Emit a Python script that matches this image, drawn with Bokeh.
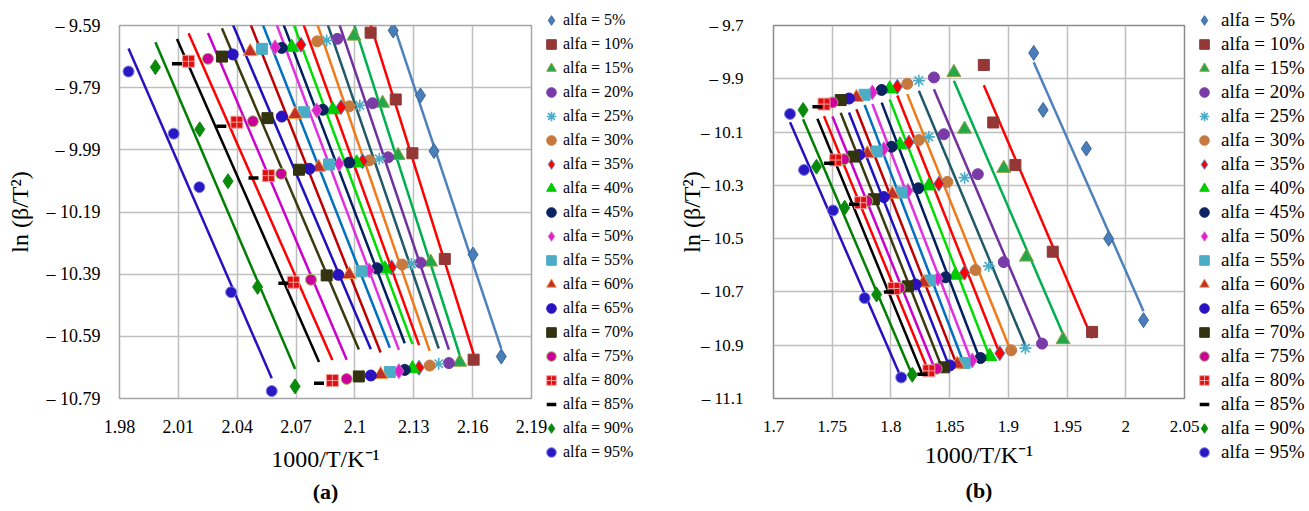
import numpy as np
from bokeh.plotting import figure
from bokeh.models import Range1d, FixedTicker, Legend, LegendItem, Title, ColumnDataSource
from bokeh.layouts import row
from bokeh.embed import file_html
from bokeh.resources import INLINE

# ---------------- data ----------------
ALFA = ["5%", "10%", "15%", "20%", "25%", "30%", "35%", "40%", "45%", "50%",
        "55%", "60%", "65%", "70%", "75%", "80%", "85%", "90%", "95%"]

# panel (a): five heating-rate rows, each listed alfa = 5% ... 95%
A_X1 = [2.1195, 2.1080, 2.0995, 2.0910, 2.0856, 2.0808, 2.0725, 2.0678, 2.0627, 2.0593,
        2.0526, 2.0466, 2.0377, 2.0322, 2.0251, 2.0152, 2.0093, 1.9983, 1.9846]
A_Y1 = [-9.606, -9.613, -9.624, -9.633, -9.638, -9.641, -9.652, -9.660, -9.662, -9.660,
        -9.665, -9.674, -9.683, -9.690, -9.697, -9.705, -9.713, -9.724, -9.738]
A_X2 = [2.1334, 2.1208, 2.1141, 2.1090, 2.1025, 2.0971, 2.0929, 2.0887, 2.0836, 2.0805,
        2.0741, 2.0695, 2.0627, 2.0554, 2.0480, 2.0398, 2.0319, 2.0209, 2.0076]
A_Y2 = [-9.815, -9.828, -9.840, -9.840, -9.847, -9.850, -9.853, -9.861, -9.861, -9.863,
        -9.869, -9.876, -9.883, -9.888, -9.898, -9.901, -9.914, -9.924, -9.938]
A_X3 = [2.1403, 2.1293, 2.1220, 2.1169, 2.1124, 2.1073, 2.1039, 2.1009, 2.0971, 2.0919,
        2.0868, 2.0815, 2.0768, 2.0715, 2.0624, 2.0559, 2.0483, 2.0353, 2.0207]
A_Y3 = [-9.994, -10.001, -10.008, -10.014, -10.019, -10.024, -10.027, -10.032, -10.031, -10.035,
        -10.037, -10.046, -10.051, -10.054, -10.067, -10.073, -10.081, -10.091, -10.110]
A_X4 = [2.1602, 2.1458, 2.1386, 2.1334, 2.1288, 2.1241, 2.1187, 2.1153, 2.1113, 2.1073,
        2.1034, 2.0971, 2.0915, 2.0856, 2.0776, 2.0686, 2.0635, 2.0504, 2.0369]
A_Y4 = [-10.327, -10.341, -10.351, -10.353, -10.357, -10.359, -10.368, -10.373, -10.371, -10.378,
        -10.381, -10.391, -10.392, -10.394, -10.408, -10.416, -10.419, -10.431, -10.448]
A_X5 = [2.1746, 2.1605, 2.1534, 2.1479, 2.1427, 2.1381, 2.1327, 2.1293, 2.1254, 2.1224,
        2.1178, 2.1131, 2.1081, 2.1020, 2.0958, 2.0885, 2.0817, 2.0695, 2.0576]
A_Y5 = [-10.655, -10.665, -10.673, -10.676, -10.678, -10.684, -10.691, -10.694, -10.698, -10.702,
        -10.705, -10.713, -10.716, -10.719, -10.727, -10.732, -10.741, -10.751, -10.766]

# panel (b)
B_X1 = [1.9216, 1.8791, 1.8536, 1.8366, 1.8238, 1.8139, 1.8054, 1.7989, 1.7921, 1.7842,
        1.7776, 1.7706, 1.7643, 1.7572, 1.7502, 1.7430, 1.7374, 1.7252, 1.7141]
B_Y1 = [-9.803, -9.848, -9.876, -9.895, -9.907, -9.919, -9.930, -9.938, -9.942, -9.951,
        -9.960, -9.970, -9.974, -9.980, -9.989, -9.995, -10.005, -10.017, -10.032]
B_X2 = [1.9296, 1.8871, 1.8627, 1.8451, 1.8323, 1.8238, 1.8153, 1.8077, 1.8006, 1.7940,
        1.7878, 1.7799, 1.7728, 1.7685, 1.7600, 1.7530, 1.7473, 1.7366, 1.7260]
B_Y2 = [-10.017, -10.064, -10.089, -10.108, -10.118, -10.130, -10.139, -10.148, -10.155, -10.164,
        -10.173, -10.181, -10.186, -10.192, -10.202, -10.205, -10.217, -10.230, -10.242]
B_X3 = [1.9664, 1.9060, 1.8961, 1.8740, 1.8627, 1.8480, 1.8408, 1.8323, 1.8233, 1.8145,
        1.8091, 1.8012, 1.7940, 1.7855, 1.7799, 1.7742, 1.7685, 1.7606, 1.7507]
B_Y3 = [-10.162, -10.224, -10.236, -10.258, -10.271, -10.287, -10.294, -10.302, -10.311, -10.321,
        -10.327, -10.333, -10.344, -10.352, -10.359, -10.365, -10.371, -10.384, -10.394]
B_X4 = [1.9854, 1.9378, 1.9154, 1.8961, 1.8833, 1.8720, 1.8627, 1.8550, 1.8465, 1.8400,
        1.8332, 1.8276, 1.8210, 1.8145, 1.8074, 1.8026, 1.7983, 1.7878, 1.7776]
B_Y4 = [-10.500, -10.549, -10.569, -10.588, -10.603, -10.618, -10.628, -10.637, -10.645, -10.650,
        -10.657, -10.666, -10.672, -10.679, -10.685, -10.687, -10.700, -10.710, -10.723]
B_X5 = [2.0151, 1.9713, 1.9466, 1.9287, 1.9145, 1.9024, 1.8927, 1.8842, 1.8763, 1.8692,
        1.8627, 1.8565, 1.8502, 1.8451, 1.8389, 1.8323, 1.8267, 1.8182, 1.8088]
B_Y5 = [-10.806, -10.850, -10.879, -10.894, -10.911, -10.919, -10.930, -10.942, -10.948, -10.957,
        -10.967, -10.971, -10.976, -10.983, -10.988, -10.996, -11.009, -11.011, -11.021]

A_X_TICKS = [1.98, 2.01, 2.04, 2.07, 2.10, 2.13, 2.16, 2.19]
A_X_LABELS = ["1.98", "2.01", "2.04", "2.07", "2.1", "2.13", "2.16", "2.19"]
A_Y_TICKS = [-10.79, -10.59, -10.39, -10.19, -9.99, -9.79, -9.59]
A_Y_LABELS = ["\u2013 10.79", "\u2013 10.59", "\u2013 10.39", "\u2013 10.19", "\u2013 9.99", "\u2013 9.79", "\u2013 9.59"]
B_X_TICKS = [1.70, 1.75, 1.80, 1.85, 1.90, 1.95, 2.00, 2.05]
B_X_LABELS = ["1.7", "1.75", "1.8", "1.85", "1.9", "1.95", "2", "2.05"]
B_Y_TICKS = [-11.1, -10.9, -10.7, -10.5, -10.3, -10.1, -9.9, -9.7]
B_Y_LABELS = ["\u2013 11.1", "\u2013 10.9", "\u2013 10.7", "\u2013 10.5", "\u2013 10.3", "\u2013 10.1", "\u2013 9.9", "\u2013 9.7"]

X_TITLE = "1000/T/K\u207b\u00b9"
Y_TITLE = "ln (\u03b2/T\u00b2)"

# ---------------- styles ----------------
MARKERS = ["diamond", "square", "triangle", "circle", "asterisk", "circle", "diamond", "triangle",
           "circle", "diamond", "square", "triangle", "circle", "square", "circle", "square_cross",
           "dash", "diamond", "circle"]
FILLS = ["#4A7EBB", "#953735", "#22A84A", "#7A3BA8", "#4BACC6", "#C7793D", "#FF0000", "#00CC00",
         "#0D2260", "#E020C8", "#4BACC6", "#C0302A", "#2A12C0", "#333310", "#CC0099", "#E01010",
         "#000000", "#0A8A0A", "#2A18C4"]
EDGES = ["#3A6496", "#8C3836", "#8EA040", "#7A3BA8", "#4BACC6", "#C7793D", "#4F81BD", "#00CC00",
         "#0D2260", "#D070D0", "#4BACC6", "#F79646", "#2A12C0", "#333310", "#9BBB59", "#F4A0A0",
         "#000000", "#0A8A0A", "#8080E0"]
LINES = ["#4F81BD", "#FF0000", "#00B050", "#7030A0", "#215968", "#F07A18", "#FF0000", "#00DD00",
         "#002060", "#E030E0", "#0070C0", "#C00000", "#2010C0", "#3A3A10", "#CC00CC", "#FF0000",
         "#000000", "#008000", "#2A10C0"]
SIZES = {"diamond": 15, "square": 11, "triangle": 14, "circle": 11, "asterisk": 12,
         "square_cross": 12, "dash": 10}
SERIF = "Liberation Serif"
H = 510
FRAME_TOP = 25
FRAME_H = 373


def marker_kw(i):
    m = MARKERS[i]
    lw = 1.6 if m == "asterisk" else (3.5 if m == "dash" else 1)
    return dict(marker=m, size=SIZES[m], fill_color=FILLS[i],
                line_color=EDGES[i] if m not in ("asterisk", "dash") else FILLS[i],
                line_width=lw)


def make_panel(rows_x, rows_y, xr, yr, xt, xl, yt, yl, W, bl, br,
               tick_px, xstand, ystand, ytitle_stand, xtitle_stand, outline,
               caption, cap_stand):
    p = figure(width=W, height=H, x_range=Range1d(*xr), y_range=Range1d(*yr),
               output_backend="svg", toolbar_location=None,
               min_border_left=bl, min_border_right=br, min_border_top=FRAME_TOP,
               min_border_bottom=H - FRAME_TOP - FRAME_H)
    p.background_fill_color = "white"
    p.border_fill_color = "white"
    p.outline_line_color = outline
    p.outline_line_width = 1.5

    xtk = FixedTicker(ticks=xt)
    ytk = FixedTicker(ticks=yt)
    p.xaxis.ticker = xtk
    p.yaxis.ticker = ytk
    p.xgrid.ticker = xtk
    p.ygrid.ticker = ytk
    p.xaxis.major_label_overrides = dict(zip(xt, xl))
    p.yaxis.major_label_overrides = dict(zip(yt, yl))
    for ax in (p.xaxis, p.yaxis):
        ax.axis_line_color = None
        ax.major_tick_line_color = None
        ax.minor_tick_line_color = None
        ax.major_label_text_font = SERIF
        ax.major_label_text_font_size = f"{tick_px}px"
        ax.major_label_text_color = "black"
        ax.axis_label_text_font = SERIF
        ax.axis_label_text_font_size = "24px"
        ax.axis_label_text_font_style = "normal"
        ax.axis_label_text_color = "black"
    p.xaxis.axis_label = X_TITLE
    p.yaxis.axis_label = Y_TITLE
    p.xaxis.major_label_standoff = xstand
    p.yaxis.major_label_standoff = ystand
    p.xaxis.axis_label_standoff = xtitle_stand
    p.yaxis.axis_label_standoff = ytitle_stand
    for g in (p.xgrid, p.ygrid):
        g.grid_line_color = "#BFBFBF"
        g.grid_line_width = 1.5

    n = len(ALFA)
    sources = []
    for i in range(n):
        xs = [r[i] for r in rows_x]
        ys = [r[i] for r in rows_y]
        sources.append(ColumnDataSource(dict(x=xs, y=ys)))
        k, b = np.polyfit(xs, ys, 1)
        x0, x1 = min(xs), max(xs)
        p.line([x0, x1], [k * x0 + b, k * x1 + b], line_color=LINES[i], line_width=2.5)

    for i in range(n):
        p.scatter("x", "y", source=sources[i], **marker_kw(i))

    cap = Title(text=caption, align="center", text_font=SERIF, text_font_size="22px",
                text_font_style="bold", text_color="black", standoff=cap_stand)
    p.add_layout(cap, "below")
    return p, sources


def make_legend(W, sources, vx, legend_px, standoff, shift):
    # narrow companion figure that only carries the legend (drawn in its left panel)
    q = figure(width=W, height=H, x_range=Range1d(0, 1), y_range=Range1d(0, 1),
               output_backend="svg", toolbar_location=None,
               x_axis_location=None, y_axis_location=None,
               min_border_left=0, min_border_right=0, min_border_top=0, min_border_bottom=0)
    q.grid.visible = False
    q.outline_line_color = None
    q.background_fill_color = None
    q.border_fill_color = None
    items = []
    for i in range(len(ALFA)):
        r = q.scatter("x", "y", source=sources[i], **marker_kw(i))
        items.append(LegendItem(label=f"alfa = {ALFA[i]}", renderers=[r]))
    n = len(ALFA)
    leg = Legend(items=items, location=(vx, (FRAME_TOP + FRAME_H) - 8 - 24 * n),
                 glyph_width=24, glyph_height=24, label_height=24, spacing=0,
                 padding=0, margin=0, label_standoff=standoff,
                 border_line_color=None, background_fill_alpha=0,
                 label_text_font=SERIF, label_text_font_size=f"{legend_px}px",
                 label_text_color="black")
    q.add_layout(leg, "left")
    q.margin = (0, 0, 0, -shift)
    return q


pa, srca = make_panel([A_X1, A_X2, A_X3, A_X4, A_X5], [A_Y1, A_Y2, A_Y3, A_Y4, A_Y5],
                      (1.98, 2.19), (-10.79, -9.59), A_X_TICKS, A_X_LABELS, A_Y_TICKS, A_Y_LABELS,
                      549, 119, 18, 18, 15, 13, 11, 10, "#A6A6A6", "(a)", 4)
la = make_legend(119, srca, 8, 16, 0, 18)
pb, srcb = make_panel([B_X1, B_X2, B_X3, B_X4, B_X5], [B_Y1, B_Y2, B_Y3, B_Y4, B_Y5],
                      (1.70, 2.05), (-11.1, -9.7), B_X_TICKS, B_X_LABELS, B_Y_TICKS, B_Y_LABELS,
                      550, 123, 16, 17, 16, 24, -7, 7, "#8C8C8C", "(b)", 10)
lb = make_legend(124, srcb, 8, 19, 5, 16)

layout = row(pa, la, pb, lb)
open("out.html", "w").write(file_html(layout, INLINE))
